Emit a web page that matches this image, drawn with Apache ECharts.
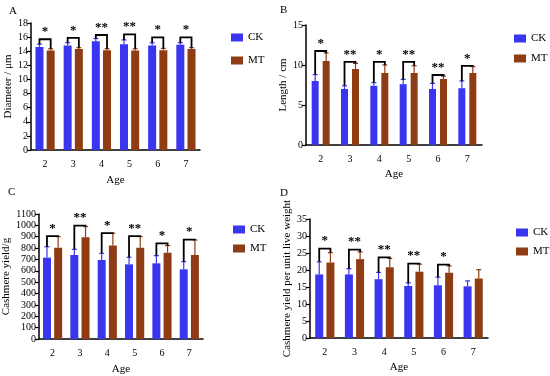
<!DOCTYPE html>
<html>
<head>
<meta charset="utf-8">
<script src="https://cdn.jsdelivr.net/npm/echarts@6/dist/echarts.min.js"></script>
<style>html,body{margin:0;padding:0;background:#fff}#c{width:550px;height:376px}</style>
</head>
<body>
<div id="c"></div>
<script>
const ages = ['2', '3', '4', '5', '6', '7'];
const seriesNames = ['CK', 'MT'];

// Panel A: Diameter / μm
const diamCK = [14.6, 14.8, 15.4, 15.0, 14.8, 14.9];
const diamCKErr = [0.4, 0.4, 0.4, 0.6, 0.4, 0.3];
const diamMT = [14.1, 14.3, 14.15, 14.1, 14.15, 14.3];
const diamMTErr = [0.25, 0.2, 0.2, 0.25, 0.25, 0.2];
const diamBracket = [15.7, 15.9, 16.3, 16.4, 15.95, 15.95];
const diamStars = ['*', '*', '**', '**', '*', '*'];

// Panel B: Length / cm
const lenCK = [8.0, 7.0, 7.4, 7.6, 7.0, 7.1];
const lenCKErr = [0.8, 0.4, 0.4, 0.6, 0.7, 0.9];
const lenMT = [10.5, 9.5, 9.0, 9.0, 8.25, 9.0];
const lenMTErr = [1.0, 0.7, 1.0, 0.9, 0.35, 0.8];
const lenBracket = [11.75, 10.4, 10.4, 10.4, 8.75, 9.9];
const lenStars = ['*', '**', '*', '**', '**', '*'];

// Panel C: Cashmere yield/g
const yieldCK = [716, 739, 695, 657, 666, 613];
const yieldCKErr = [96, 50, 59, 62, 67, 67];
const yieldMT = [804, 895, 822, 804, 760, 739];
const yieldMTErr = [97, 94, 108, 97, 62, 132];
const yieldBracket = [905, 998, 932, 905, 842, 875];
const yieldStars = ['*', '**', '*', '**', '*', '*'];

// Panel D: Cashmere yield per unit live weight
const unitCK = [18.7, 18.7, 17.3, 15.3, 15.5, 15.2];
const unitCKErr = [3.7, 1.7, 2.0, 0.9, 2.4, 1.6];
const unitMT = [22.2, 23.2, 20.8, 19.5, 19.2, 17.5];
const unitMTErr = [2.9, 2.1, 2.6, 2.2, 2.0, 2.6];
const unitBracket = [26.3, 26.0, 23.7, 21.9, 21.6];
const unitStars = ['*', '**', '**', '**', '*'];

const CK_COLOR = '#3a35ee';
const MT_COLOR = '#8f3c14';
const FONT = 'Liberation Serif';

const panels = [
  {label: 'A', ck: diamCK, ckErr: diamCKErr, mt: diamMT, mtErr: diamMTErr, br: diamBracket, stars: diamStars,
   yName: 'Diameter / μm', max: 18, interval: 2,
   grid: {left: 31, top: 23, width: 169, height: 127}, nameGap: 17, xNameGap: 25, bw: 8, gap: 0.4,
   legend: {left: 226, top: 27, itemGap: 12}, labelPos: [9, 6]},
  {label: 'B', ck: lenCK, ckErr: lenCKErr, mt: lenMT, mtErr: lenMTErr, br: lenBracket, stars: lenStars,
   yName: 'Length / cm', max: 15, interval: 5,
   grid: {left: 306, top: 25, width: 176, height: 120}, nameGap: 15, xNameGap: 24, bw: 7, gap: 0.57,
   legend: {left: 509, top: 28, itemGap: 9}, labelPos: [280, 5]},
  {label: 'C', ck: yieldCK, ckErr: yieldCKErr, mt: yieldMT, mtErr: yieldMTErr, br: yieldBracket, stars: yieldStars,
   yName: 'Cashmere yield/g', max: 1100, interval: 100,
   grid: {left: 36, top: 214, width: 167, height: 125}, nameGap: 24, xNameGap: 25, bw: 8, gap: 0.4,
   legend: {left: 228, top: 219, itemGap: 8}, labelPos: [8, 187]},
  {label: 'D', ck: unitCK, ckErr: unitCKErr, mt: unitMT, mtErr: unitMTErr, br: unitBracket, stars: unitStars,
   yName: 'Cashmere yield per unit live weight', max: 35, interval: 5,
   grid: {left: 310, top: 219, width: 178, height: 119}, nameGap: 15, xNameGap: 24, bw: 8, gap: 0.4,
   legend: {left: 511, top: 222, itemGap: 8}, labelPos: [280, 188]}
];

function errRender(sign, bw, gap, color) {
  return function (params, api) {
    const i = api.value(0);
    const base = api.coord([i, api.value(1)]);
    const top = api.coord([i, api.value(1) + api.value(2)]);
    const x = base[0] + sign * (bw + bw * gap) / 2;
    return {
      type: 'group',
      children: [
        {type: 'line', shape: {x1: x, y1: base[1], x2: x, y2: top[1]}, style: {stroke: color, lineWidth: 1.2}},
        {type: 'line', shape: {x1: x - 2.5, y1: top[1], x2: x + 2.5, y2: top[1]}, style: {stroke: color, lineWidth: 1.2}}
      ]
    };
  };
}

function bracketRender(bw, gap, stars) {
  return function (params, api) {
    const i = api.value(0);
    const off = (bw + bw * gap) / 2;
    const b = api.coord([i, api.value(1)]);
    const l = api.coord([i, api.value(2)]);
    const r = api.coord([i, api.value(3)]);
    const xL = b[0] - off, xR = b[0] + off;
    return {
      type: 'group',
      children: [
        {type: 'polyline', shape: {points: [[xL, l[1]], [xL, b[1]], [xR, b[1]], [xR, r[1]]]},
         style: {stroke: '#000', lineWidth: 1.8, fill: null}},
        {type: 'text', x: b[0], y: b[1] - 1,
         style: {text: stars[params.dataIndex], textAlign: 'center', textVerticalAlign: 'bottom',
                 font: 'bold 13px "' + FONT + '"', fill: '#000'}}
      ]
    };
  };
}

const option = {
  animation: false,
  textStyle: {fontFamily: FONT},
  grid: [], xAxis: [], yAxis: [], series: [], legend: [], graphic: []
};

panels.forEach(function (p, k) {
  option.grid.push(p.grid);
  option.xAxis.push({
    type: 'category', gridIndex: k, data: ages,
    name: 'Age', nameLocation: 'middle', nameGap: p.xNameGap,
    nameTextStyle: {fontFamily: FONT, fontSize: 11, color: '#000'},
    axisLine: {lineStyle: {color: '#000', width: 1.5}},
    axisTick: {alignWithLabel: true, length: 4, lineStyle: {color: '#000', width: 1.2}},
    axisLabel: {fontFamily: FONT, fontSize: 10, color: '#000', margin: 9}
  });
  option.yAxis.push({
    type: 'value', gridIndex: k, min: 0, max: p.max, interval: p.interval,
    name: p.yName, nameLocation: 'middle', nameGap: p.nameGap, nameRotate: 90,
    nameTextStyle: {fontFamily: FONT, fontSize: 11, color: '#000'},
    axisLine: {show: true, lineStyle: {color: '#000', width: 1.5}},
    axisTick: {show: true, length: 4, lineStyle: {color: '#000', width: 1.2}},
    axisLabel: {fontFamily: FONT, fontSize: 10, color: '#000', margin: 3,
                formatter: function (v) { return String(v); }},
    splitLine: {show: false}
  });
  option.series.push({
    name: 'CK', type: 'bar', xAxisIndex: k, yAxisIndex: k, data: p.ck,
    barWidth: p.bw, barGap: (p.gap * 100) + '%', itemStyle: {color: CK_COLOR}
  });
  option.series.push({
    name: 'MT', type: 'bar', xAxisIndex: k, yAxisIndex: k, data: p.mt,
    barWidth: p.bw, barGap: (p.gap * 100) + '%', itemStyle: {color: MT_COLOR}
  });
  option.series.push({
    name: 'errCK' + k, type: 'custom', xAxisIndex: k, yAxisIndex: k,
    data: p.ck.map(function (v, i) { return [i, v, p.ckErr[i]]; }),
    encode: {x: 0, y: 1}, renderItem: errRender(-1, p.bw, p.gap, CK_COLOR), z: 3
  });
  option.series.push({
    name: 'errMT' + k, type: 'custom', xAxisIndex: k, yAxisIndex: k,
    data: p.mt.map(function (v, i) { return [i, v, p.mtErr[i]]; }),
    encode: {x: 0, y: 1}, renderItem: errRender(1, p.bw, p.gap, MT_COLOR), z: 3
  });
  option.series.push({
    name: 'sig' + k, type: 'custom', xAxisIndex: k, yAxisIndex: k,
    data: p.br.map(function (v, i) {
      return [i, v, p.ck[i] + p.ckErr[i], p.mt[i] + p.mtErr[i]];
    }),
    encode: {x: 0, y: 1}, renderItem: bracketRender(p.bw, p.gap, p.stars), z: 4
  });
  option.legend.push({
    data: seriesNames, orient: 'vertical', left: p.legend.left, top: p.legend.top,
    itemGap: p.legend.itemGap, itemWidth: 12, itemHeight: 8, icon: 'rect',
    textStyle: {fontFamily: FONT, fontSize: 11, color: '#000'}
  });
  option.graphic.push({
    type: 'text', left: p.labelPos[0], top: p.labelPos[1],
    style: {text: p.label, font: '11px "' + FONT + '"', fill: '#000'}
  });
});

const chart = echarts.init(document.getElementById('c'), null, {renderer: 'canvas'});
chart.setOption(option);
</script>
</body>
</html>
